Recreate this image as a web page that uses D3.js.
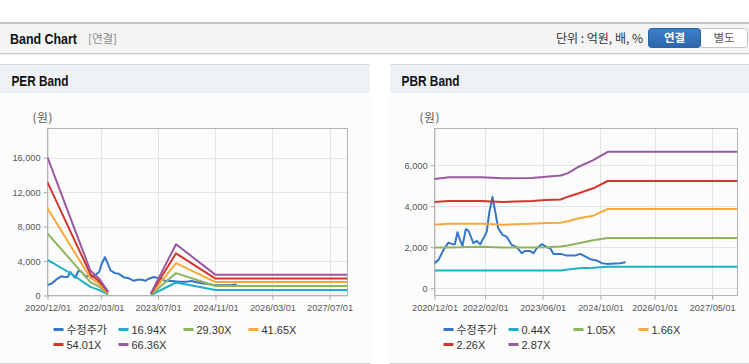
<!DOCTYPE html>
<html><head><meta charset="utf-8">
<script src="https://cdn.jsdelivr.net/npm/d3@7"></script>
<style>
body{margin:0;background:#fff;}
svg{display:block;font-family:"Liberation Sans",Arial,"Noto Sans CJK KR",sans-serif;}
</style>
</head><body><script>
// ---------- data ----------
const xDomain = ['2020-12-01', '2027-12-01'];

const priceDates = ['2020-12-01','2021-01-04','2021-02-15','2021-03-28','2021-04-25','2021-05-22','2021-06-13','2021-07-04','2021-07-25','2021-08-22','2021-09-13','2021-10-25','2021-11-22','2021-12-22','2022-01-25','2022-02-15','2022-03-07','2022-04-04','2022-04-25','2022-05-22','2022-06-28','2022-08-01','2022-09-13','2022-10-25','2022-12-07','2023-01-04','2023-02-15','2023-03-15','2023-04-13','2023-05-25','2023-07-07','2023-08-04','2023-09-01','2023-11-01','2023-12-22','2024-03-01','2024-04-13','2024-05-25','2024-07-07','2024-09-01','2024-10-13','2024-11-25','2025-03-15','2025-05-01'];
const priceValues = [1220,1380,1870,2225,2160,2145,2730,2355,2063,2878,2810,2195,2310,2145,2517,2761,3659,4450,3820,2927,2600,2517,2112,2000,1707,1820,1820,1707,1951,2146,2000,1951,1673,1673,1590,1590,1673,1550,1415,1346,1220,1185,1220,1268];

// PER band
const perDates = ['2020-12-01','2021-06-01','2021-12-01','2022-02-10','2022-05-01','2022-11-01','2023-05-01','2023-12-01','2024-11-01','2027-12-01'];
const per1694 = [4150, 2700, 1000, 660, 120, null, 60, 1510, 650, 650];
const per2930 = [7200, 4375, 1550, 1050, 200, null, 110, 2600, 1100, 1100];
const per4165 = [10130, 6090, 2050, 1400, 290, null, 160, 3750, 1560, 1560];
const per5401 = [13150, 7825, 2500, 1700, 380, null, 200, 4900, 1970, 1970];
const per6636 = [16050, 9475, 2900, 2017, 464, null, 250, 5960, 2400, 2400];
const perLabels = ['수정주가','16.94X','29.30X','41.65X','54.01X','66.36X'];
const perXTicks = ['2020-12-01','2022-03-01','2023-07-01','2024-11-01','2026-03-01','2027-07-01'];
const perYTicks = [0, 4000, 8000, 12000, 16000];
const perYDomain = [0, 19400];

// PBR band
const pbrDates = ['2020-12-01','2021-04-01','2022-01-01','2022-07-01','2023-03-01','2023-07-01','2023-11-01','2024-01-01','2024-04-01','2024-08-01','2024-12-01','2027-12-01'];
const pbr044 = [858, 858, 858, 858, 858, 858, 860, 907, 975, 990, 1045, 1045];
const pbr105 = [1980, 1980, 2020, 1980, 1990, 2000, 2030, 2080, 2195, 2340, 2454, 2454];
const pbr166 = [3102, 3140, 3151, 3102, 3150, 3180, 3200, 3268, 3415, 3541, 3868, 3868];
const pbr226 = [4210, 4259, 4259, 4210, 4259, 4307, 4330, 4468, 4634, 4878, 5234, 5234];
const pbr287 = [5332, 5415, 5415, 5366, 5380, 5444, 5500, 5620, 5932, 6258, 6663, 6663];
const pbrLabels = ['수정주가','0.44X','1.05X','1.66X','2.26X','2.87X'];
const pbrXTicks = ['2020-12-01','2022-02-01','2023-06-01','2024-10-01','2026-01-01','2027-05-01'];
const pbrYTicks = [0, 2000, 4000, 6000];
const pbrYDomain = [-360, 7800];

const colors = ['#3476c8','#1db0c6','#8fb55c','#f5aa3b','#d2372e','#99589f'];

// ---------- drawing ----------
const parse = d3.timeParse('%Y-%m-%d');
const svg = d3.select('body').append('svg').attr('width', 749).attr('height', 364);

// top header bar
svg.append('rect').attr('x',0).attr('y',22).attr('width',749).attr('height',31).attr('fill','#f4f4f4');
svg.append('line').attr('x1',0).attr('x2',749).attr('y1',23).attr('y2',23).attr('stroke','#c4c4c4').attr('stroke-width',2);
svg.append('line').attr('x1',0).attr('x2',749).attr('y1',53.5).attr('y2',53.5).attr('stroke','#cdcdcd');
svg.append('line').attr('x1',0).attr('x2',749).attr('y1',54.5).attr('y2',54.5).attr('stroke','#ececec');
svg.append('text').attr('x',10).attr('y',44).attr('font-size',14).attr('font-weight','bold').attr('fill','#111')
  .attr('textLength',67).attr('lengthAdjust','spacingAndGlyphs').text('Band Chart');
svg.append('text').attr('x',88).attr('y',43).attr('font-size',11.5).attr('fill','#8a8a8a')
  .style('font-family','"Noto Sans CJK KR",sans-serif').text('[연결]');
svg.append('text').attr('x',643).attr('y',43).attr('text-anchor','end').attr('font-size',12).attr('fill','#333')
  .style('font-family','"Noto Sans CJK KR",sans-serif').text('단위 : 억원, 배, %');
const grad = svg.append('defs').append('linearGradient').attr('id','btn').attr('x1',0).attr('x2',0).attr('y1',0).attr('y2',1);
grad.append('stop').attr('offset','0%').attr('stop-color','#3c80c8');
grad.append('stop').attr('offset','100%').attr('stop-color','#2a66ad');
svg.append('rect').attr('x',699.5).attr('y',28.5).attr('width',48).attr('height',19).attr('rx',3)
  .attr('fill','#fff').attr('stroke','#c6c6c6');
svg.append('rect').attr('x',648.5).attr('y',28.5).attr('width',52).attr('height',19).attr('rx',3)
  .attr('fill','url(#btn)').attr('stroke','#2a62a5');
svg.append('text').attr('x',674.5).attr('y',42).attr('text-anchor','middle').attr('font-size',11.5).attr('font-weight','bold')
  .attr('fill','#fff').style('font-family','"Noto Sans CJK KR",sans-serif').text('연결');
svg.append('text').attr('x',724).attr('y',42).attr('text-anchor','middle').attr('font-size',11.5)
  .attr('fill','#555').style('font-family','"Noto Sans CJK KR",sans-serif').text('별도');

function panel(x0, w, title, titleLen) {
  svg.append('rect').attr('x',x0).attr('y',64).attr('width',w).attr('height',300).attr('fill','#fcfcfc');
  svg.append('rect').attr('x',x0).attr('y',64.5).attr('width',w).attr('height',28.5).attr('fill','#eef2f7');
  svg.append('line').attr('x1',x0).attr('x2',x0+w).attr('y1',64.5).attr('y2',64.5).attr('stroke','#d8d8d8');
  svg.append('line').attr('x1',x0).attr('x2',x0+w).attr('y1',363.5).attr('y2',363.5).attr('stroke','#d0d0d0');
  svg.append('text').attr('x',x0+11.5).attr('y',85.5).attr('font-size',14).attr('font-weight','bold').attr('fill','#111')
    .attr('textLength',titleLen).attr('lengthAdjust','spacingAndGlyphs').text(title);
}
panel(0, 370, 'PER Band', 57);
panel(390, 359, 'PBR Band', 58);

function drawChart(cfg, id) {
  const top = 128.5, bottom = 295.5;
  const x = d3.scaleTime().domain(xDomain.map(parse)).range([cfg.left, cfg.right]);
  const y = d3.scaleLinear().domain(cfg.yDomain).range([bottom, top]);
  const g = svg.append('g');

  // unit label
  g.append('text').attr('x', cfg.left - 15).attr('y', 122).attr('font-size', 11.5).attr('fill','#555')
    .attr('textLength', 20).attr('lengthAdjust','spacing')
    .style('font-family','"Noto Sans CJK KR",sans-serif').text('(원)');

  // grid
  g.selectAll('.vg').data(cfg.xTicks.map(parse)).join('line')
    .attr('x1', d => Math.round(x(d)) + 0.5).attr('x2', d => Math.round(x(d)) + 0.5)
    .attr('y1', top).attr('y2', bottom).attr('stroke', '#e4e4e4');
  g.selectAll('.hg').data(cfg.yTicks).join('line')
    .attr('x1', cfg.left).attr('x2', cfg.right)
    .attr('y1', d => Math.round(y(d)) + 0.5).attr('y2', d => Math.round(y(d)) + 0.5).attr('stroke', '#e4e4e4');

  // axes
  const xa = g.append('g').attr('transform', `translate(0,${bottom})`)
    .call(d3.axisBottom(x).tickValues(cfg.xTicks.map(parse)).tickFormat(d3.timeFormat('%Y/%m/%d')).tickSize(4).tickPadding(5));
  xa.select('.domain').remove();
  xa.selectAll('line').attr('stroke', '#aaa');
  xa.selectAll('text').attr('font-size', 9.2).attr('fill', '#555').style('font-family','"Liberation Sans",Arial,sans-serif');

  const ya = g.append('g').attr('transform', `translate(${cfg.left},0)`)
    .call(d3.axisLeft(y).tickValues(cfg.yTicks).tickFormat(d3.format(',')).tickSize(4).tickPadding(3));
  ya.select('.domain').remove();
  ya.selectAll('line').attr('stroke', '#aaa');
  ya.selectAll('text').attr('font-size', 9.2).attr('fill', '#555').style('font-family','"Liberation Sans",Arial,sans-serif');

  // plot border
  g.append('rect').attr('x', cfg.left).attr('y', top).attr('width', cfg.right - cfg.left).attr('height', bottom - top)
    .attr('fill', 'none').attr('stroke', '#b4b4b4');

  // clip
  svg.select('defs').append('clipPath').attr('id', 'clip' + id).append('rect')
    .attr('x', cfg.left).attr('y', top).attr('width', cfg.right - cfg.left).attr('height', bottom - top);
  const lg = g.append('g').attr('clip-path', `url(#clip${id})`);

  const line = d3.line().defined(d => d[1] != null).x(d => x(d[0])).y(d => y(d[1]));

  const series = [d3.zip(priceDates.map(parse), priceValues)]
    .concat(cfg.bands.map(vals => d3.zip(cfg.dates.map(parse), vals)));
  series.forEach((s, i) => {
    lg.append('path').datum(s).attr('d', line).attr('fill', 'none')
      .attr('stroke', colors[i]).attr('stroke-width', 2).attr('stroke-linejoin', 'round');
  });

  // legend
  cfg.labels.forEach((lab, i) => {
    const col = i % 4, row = Math.floor(i / 4);
    const lx = cfg.legendX + col * 65, ly = 329.5 + row * 15;
    g.append('line').attr('x1', lx).attr('x2', lx + 10).attr('y1', ly).attr('y2', ly)
      .attr('stroke', colors[i]).attr('stroke-width', 3);
    g.append('text').attr('x', lx + 13).attr('y', ly + 4).attr('font-size', 11).attr('fill', '#333')
      .style('font-family', i === 0 ? '"Noto Sans CJK KR",sans-serif' : '"Liberation Sans",Arial,sans-serif')
      .text(lab);
  });
}

drawChart({
  left: 47.5, right: 347.5, yDomain: perYDomain, yTicks: perYTicks, xTicks: perXTicks,
  dates: perDates, bands: [per1694, per2930, per4165, per5401, per6636], labels: perLabels, legendX: 53.5
}, 1);

drawChart({
  left: 434.5, right: 737.5, yDomain: pbrYDomain, yTicks: pbrYTicks, xTicks: pbrXTicks,
  dates: pbrDates, bands: [pbr044, pbr105, pbr166, pbr226, pbr287], labels: pbrLabels, legendX: 443.5
}, 2);
</script></body></html>
